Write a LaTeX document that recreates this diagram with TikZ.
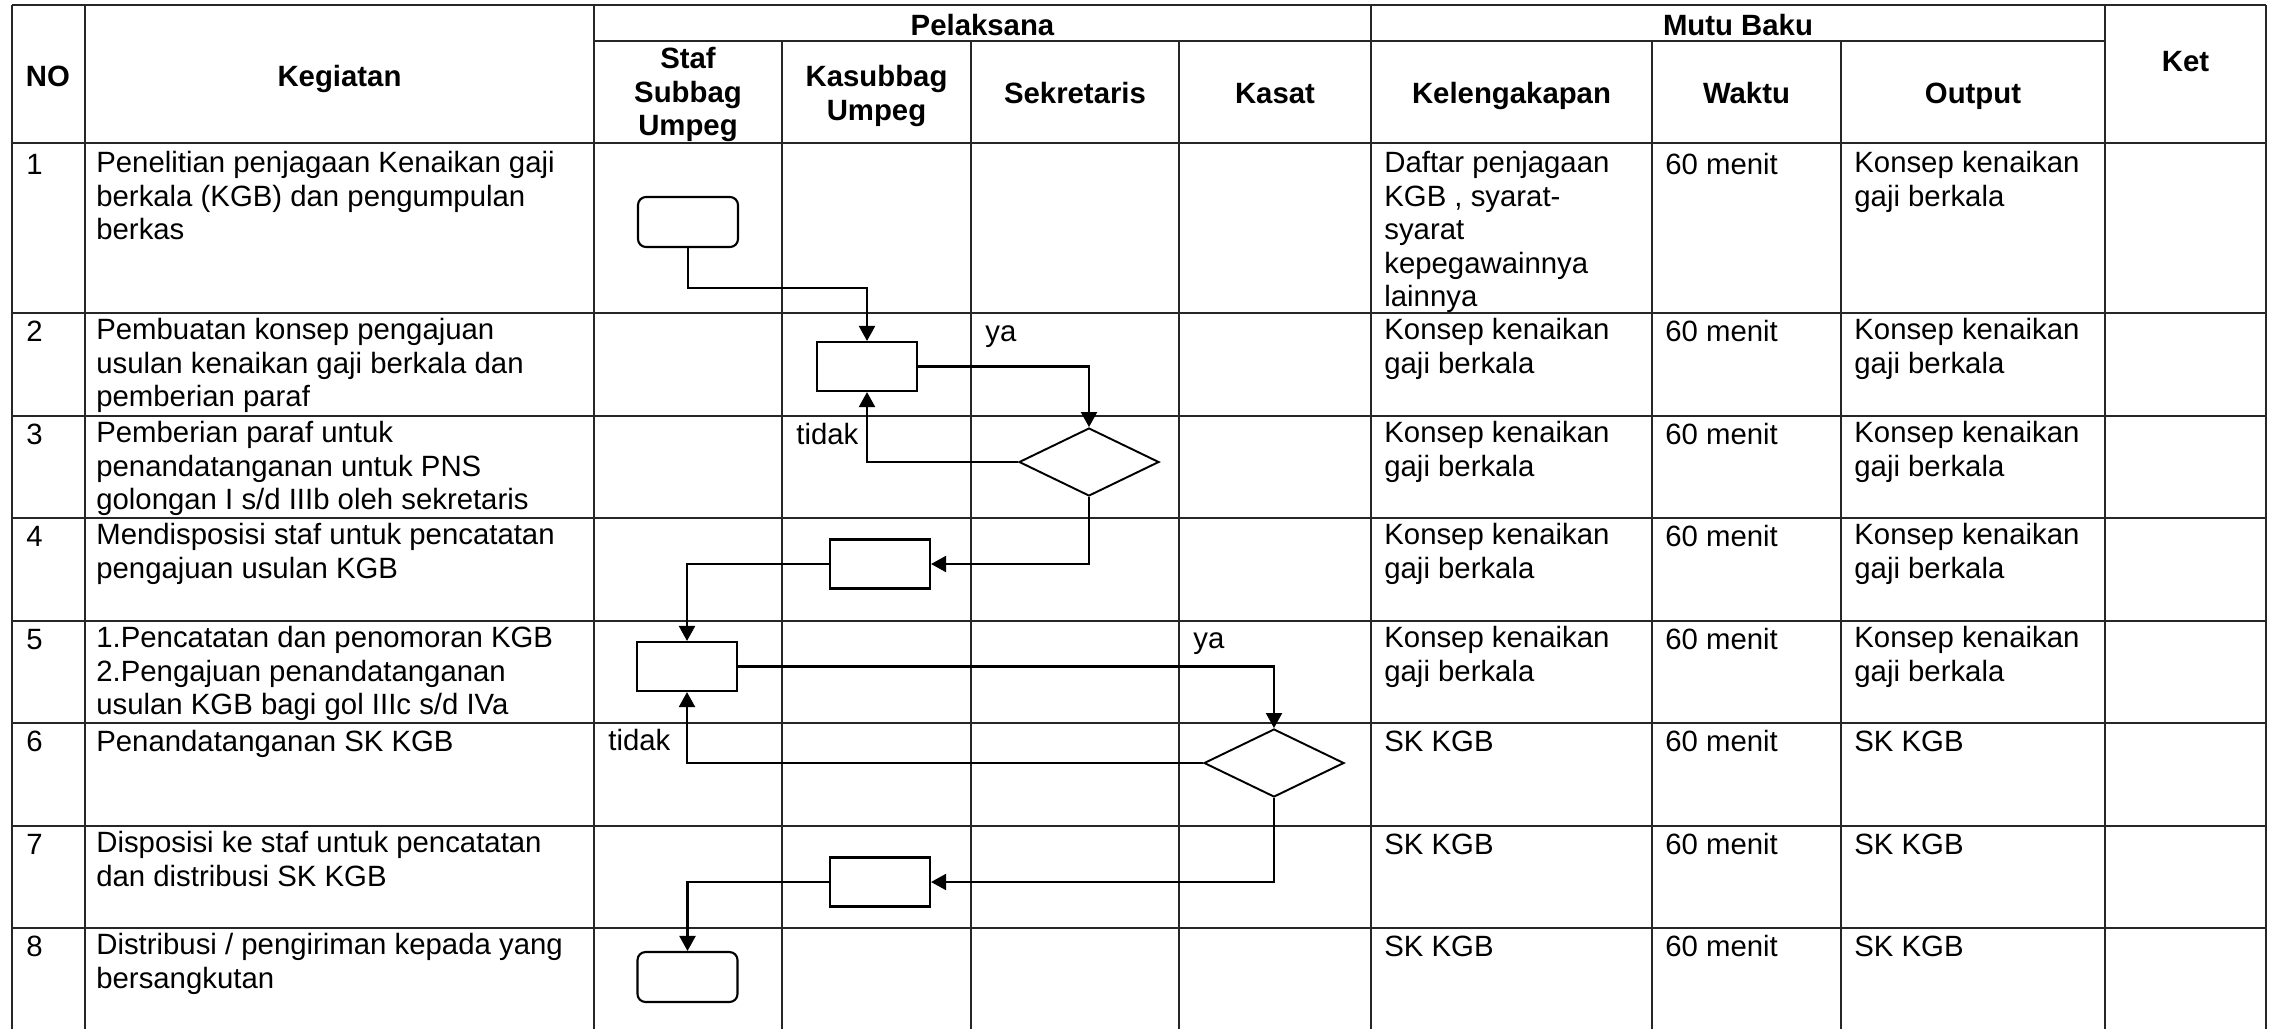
\documentclass[tikz,border=0pt]{standalone}
\usepackage{fontspec}
\setmainfont{Liberation Sans}
\usepackage{tikz}
\usetikzlibrary{shapes.geometric, arrows.meta}
\newcommand{\isi}{\fontsize{16.7pt}{19.06pt}\selectfont}
\tikzstyle{garis} = [line width=0.85pt, draw=black!85]
\tikzstyle{judul} = [anchor=north, align=center, inner sep=0pt, font=\isi\bfseries, execute at begin node=\strut]
\tikzstyle{sel} = [anchor=north west, align=left, inner sep=0pt, font=\isi, execute at begin node=\strut]
\tikzstyle{terminal} = [rectangle, rounded corners=0.16cm, draw, line width=1.2pt, minimum width=2cm, minimum height=1cm]
\tikzstyle{proses} = [rectangle, draw, line width=1.2pt, minimum width=2cm, minimum height=0.98cm]
\tikzstyle{keputusan} = [diamond, draw, line width=1.1pt, minimum width=2.8cm, minimum height=1.36cm, inner sep=0pt]
\tikzstyle{panah} = [line width=1.2pt, -{Triangle[length=0.3cm, width=0.32cm]}]

\begin{document}
\begin{tikzpicture}[x=0.02cm, y=-0.02cm]
  \useasboundingbox (0,0) rectangle (2271,1029);

  % Garis tabel
  \draw[garis] (12,5) -- (2266,5);
  \draw[garis] (594,41) -- (2105,41);
  \draw[garis] (12,143) -- (2266,143) (12,313) -- (2266,313) (12,416) -- (2266,416) (12,518) -- (2266,518);
  \draw[garis] (12,621) -- (2266,621) (12,723) -- (2266,723) (12,826) -- (2266,826) (12,928) -- (2266,928);
  \draw[garis] (12,5) -- (12,1029) (85,5) -- (85,1029) (594,5) -- (594,1029) (1371,5) -- (1371,1029);
  \draw[garis] (782,41) -- (782,1029) (971,41) -- (971,1029) (1179,41) -- (1179,1029);
  \draw[garis] (1652,41) -- (1652,1029) (1841,41) -- (1841,1029) (2105,5) -- (2105,1029) (2266,5) -- (2266,1029);

  % Judul kolom
  \node[judul] (hno) at (48,63) {NO};
  \node[judul] (hkeg) at (339.5,62.5) {Kegiatan};
  \node[judul] (hpel) at (982.5,12) {Pelaksana};
  \node[judul] (hstaf) at (688,47) {Staf\\Subbag\\Umpeg};
  \node[judul] (hkasub) at (876.5,65) {Kasubbag\\Umpeg};
  \node[judul] (hsek) at (1075,79.5) {Sekretaris};
  \node[judul] (hkasat) at (1275,79.5) {Kasat};
  \node[judul] (hmutu) at (1738,12) {Mutu Baku};
  \node[judul] (hkel) at (1511.5,79.5) {Kelengakapan};
  \node[judul] (hwak) at (1746.5,79.5) {Waktu};
  \node[judul] (hout) at (1973,79.5) {Output};
  \node[judul] (hket) at (2185.5,48) {Ket};

  % Baris 1
  \node[sel] (no1) at (26,151) {1};
  \node[sel] (keg1) at (96,151) {Penelitian penjagaan Kenaikan gaji\\berkala (KGB) dan pengumpulan\\berkas};
  \node[sel] (kel1) at (1384,151) {Daftar penjagaan\\KGB , syarat-\\syarat\\kepegawainnya\\lainnya};
  \node[sel] (wak1) at (1665,151) {60 menit};
  \node[sel] (out1) at (1854,151) {Konsep kenaikan\\gaji berkala};

  % Baris 2
  \node[sel] (no2) at (26,318) {2};
  \node[sel] (keg2) at (96,318) {Pembuatan konsep pengajuan\\usulan kenaikan gaji berkala dan\\pemberian paraf};
  \node[sel] (kel2) at (1384,318) {Konsep kenaikan\\gaji berkala};
  \node[sel] (wak2) at (1665,318) {60 menit};
  \node[sel] (out2) at (1854,318) {Konsep kenaikan\\gaji berkala};

  % Baris 3
  \node[sel] (no3) at (26,421) {3};
  \node[sel] (keg3) at (96,421) {Pemberian paraf untuk\\penandatanganan untuk PNS\\golongan I s/d IIIb oleh sekretaris};
  \node[sel] (kel3) at (1384,421) {Konsep kenaikan\\gaji berkala};
  \node[sel] (wak3) at (1665,421) {60 menit};
  \node[sel] (out3) at (1854,421) {Konsep kenaikan\\gaji berkala};

  % Baris 4
  \node[sel] (no4) at (26,523) {4};
  \node[sel] (keg4) at (96,523) {Mendisposisi staf untuk pencatatan\\pengajuan usulan KGB};
  \node[sel] (kel4) at (1384,523) {Konsep kenaikan\\gaji berkala};
  \node[sel] (wak4) at (1665,523) {60 menit};
  \node[sel] (out4) at (1854,523) {Konsep kenaikan\\gaji berkala};

  % Baris 5
  \node[sel] (no5) at (26,626) {5};
  \node[sel] (keg5) at (96,626) {1.Pencatatan dan penomoran KGB\\2.Pengajuan penandatanganan\\usulan KGB bagi gol IIIc s/d IVa};
  \node[sel] (kel5) at (1384,626) {Konsep kenaikan\\gaji berkala};
  \node[sel] (wak5) at (1665,626) {60 menit};
  \node[sel] (out5) at (1854,626) {Konsep kenaikan\\gaji berkala};

  % Baris 6
  \node[sel] (no6) at (26,728) {6};
  \node[sel] (keg6) at (96,728) {Penandatanganan SK KGB};
  \node[sel] (kel6) at (1384,728) {SK KGB};
  \node[sel] (wak6) at (1665,728) {60 menit};
  \node[sel] (out6) at (1854,728) {SK KGB};

  % Baris 7
  \node[sel] (no7) at (26,831) {7};
  \node[sel] (keg7) at (96,831) {Disposisi ke staf untuk pencatatan\\dan distribusi SK KGB};
  \node[sel] (kel7) at (1384,831) {SK KGB};
  \node[sel] (wak7) at (1665,831) {60 menit};
  \node[sel] (out7) at (1854,831) {SK KGB};

  % Baris 8
  \node[sel] (no8) at (26,933) {8};
  \node[sel] (keg8) at (96,933) {Distribusi / pengiriman kepada yang\\bersangkutan};
  \node[sel] (kel8) at (1384,933) {SK KGB};
  \node[sel] (wak8) at (1665,933) {60 menit};
  \node[sel] (out8) at (1854,933) {SK KGB};

  % Simbol alur
  \node[terminal] (mulai) at (688,222) {};
  \node[proses] (konsep) at (867,366.5) {};
  \node[keputusan] (paraf) at (1089,462) {};
  \node[proses] (dispo) at (880,564) {};
  \node[proses] (catat) at (687,666.5) {};
  \node[keputusan] (ttd) at (1274,763) {};
  \node[proses] (distr) at (880,882) {};
  \node[terminal] (selesai) at (687.5,977) {};

  % Label ya / tidak
  \node[sel] (ya1) at (985,318) {ya};
  \node[sel] (tidak1) at (796,421) {tidak};
  \node[sel] (ya2) at (1193,625) {ya};
  \node[sel] (tidak2) at (608,727) {tidak};

  % Panah
  \draw[panah] (mulai.south) -- ++(0,40) -| (konsep.north);
  \draw[panah] (konsep.east) -| (paraf.north);
  \draw[panah] (paraf.west) -| (konsep.south);
  \draw[panah] (paraf.south) |- (dispo.east);
  \draw[panah] (dispo.west) -| (catat.north);
  \draw[panah] (catat.east) -| (ttd.north);
  \draw[panah] (ttd.west) -| (catat.south);
  \draw[panah] (ttd.south) |- (distr.east);
  \draw[panah] (distr.west) -| (selesai.north);
\end{tikzpicture}
\end{document}
